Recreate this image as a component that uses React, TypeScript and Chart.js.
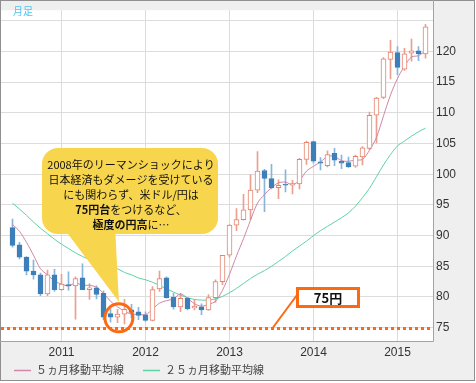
import React, { useEffect, useRef } from 'react';
import { Chart, registerables } from 'chart.js';

Chart.register(...registerables);

// ---- data (monthly USD/JPY candles, Jun 2010 – May 2015) ----
const months = [
  '2010-06', '2010-07', '2010-08', '2010-09', '2010-10', '2010-11', '2010-12',
  '2011-01', '2011-02', '2011-03', '2011-04', '2011-05', '2011-06', '2011-07', '2011-08', '2011-09', '2011-10', '2011-11', '2011-12',
  '2012-01', '2012-02', '2012-03', '2012-04', '2012-05', '2012-06', '2012-07', '2012-08', '2012-09', '2012-10', '2012-11', '2012-12',
  '2013-01', '2013-02', '2013-03', '2013-04', '2013-05', '2013-06', '2013-07', '2013-08', '2013-09', '2013-10', '2013-11', '2013-12',
  '2014-01', '2014-02', '2014-03', '2014-04', '2014-05', '2014-06', '2014-07', '2014-08', '2014-09', '2014-10', '2014-11', '2014-12',
  '2015-01', '2015-02', '2015-03', '2015-04', '2015-05',
];
const openP = [
  91.3, 88.5, 86.5, 84.2, 83.6, 80.5, 83.6,
  81.2, 82.0, 81.8, 83.1, 81.2, 81.5, 80.6, 77.3, 76.7, 77.2, 77.9, 77.6,
  77.1, 76.2, 81.3, 83.1, 80.0, 78.4, 79.8, 78.2, 78.4, 77.9, 79.9, 82.5,
  86.8, 91.7, 92.6, 94.2, 97.4, 100.6, 99.3, 97.8, 98.35, 98.2, 98.4, 102.4,
  105.3, 102.0, 101.4, 103.4, 102.1, 101.9, 101.3, 102.8, 104.2, 109.6, 112.5, 118.7,
  119.8, 117.1, 119.7, 120.1, 119.6,
];
const closeP = [
  88.4, 86.5, 84.2, 83.6, 80.5, 83.6, 81.2,
  82.1, 81.8, 83.0, 81.2, 81.5, 80.4, 76.7, 76.7, 77.2, 78.0, 77.5, 77.0,
  76.2, 81.2, 83.0, 79.9, 78.4, 79.8, 78.1, 78.5, 77.9, 79.9, 82.5, 86.8,
  91.7, 92.6, 94.2, 97.4, 100.5, 99.3, 97.8, 98.2, 98.2, 98.45, 102.4, 105.2,
  102.1, 101.8, 103.2, 102.3, 101.8, 101.2, 102.9, 104.3, 109.6, 112.4, 118.8, 119.9,
  117.4, 119.6, 120.1, 119.6, 124.0,
];
const highP = [
  92.7, 88.9, 86.6, 86.0, 83.9, 84.4, 84.5,
  83.7, 84.1, 83.3, 85.4, 82.2, 81.8, 81.0, 78.1, 78.0, 79.6, 78.8, 78.3,
  77.6, 81.7, 84.2, 83.3, 80.6, 80.6, 79.9, 79.6, 78.9, 80.4, 82.8, 86.7,
  91.8, 94.4, 96.7, 99.9, 103.7, 100.8, 101.6, 99.1, 100.7, 99.0, 102.6, 105.4,
  105.4, 102.7, 103.8, 104.2, 103.1, 102.8, 103.1, 104.5, 110.1, 112.5, 119.0, 121.8,
  120.8, 120.5, 122.0, 120.8, 124.4,
];
const lowP = [
  88.1, 86.2, 83.6, 82.9, 80.2, 80.2, 80.9,
  81.1, 81.1, 76.4, 81.3, 79.6, 79.7, 76.3, 75.9, 75.8, 75.6, 76.6, 76.3,
  76.0, 76.1, 80.9, 79.8, 78.0, 77.6, 77.9, 77.9, 77.1, 77.8, 79.1, 82.0,
  86.5, 90.8, 92.5, 92.6, 97.0, 93.9, 97.6, 96.0, 97.1, 96.8, 97.6, 101.6,
  101.8, 100.7, 101.2, 101.4, 100.9, 101.1, 101.1, 101.5, 104.0, 105.1, 112.3, 115.5,
  116.2, 116.9, 118.4, 118.5, 118.9,
];
const ma5 = [
  91.8, 90.7, 88.9, 86.8, 84.6, 83.6, 82.6,
  82.1, 81.8, 82.3, 81.9, 81.9, 81.6, 80.6, 79.3, 78.4, 77.7, 77.2, 77.2,
  77.1, 78.0, 79.0, 79.4, 79.7, 80.5, 79.8, 78.9, 78.5, 78.8, 79.3, 81.1,
  83.7, 86.7, 89.5, 92.5, 95.3, 96.7, 97.8, 98.6, 98.7, 98.3, 99.0, 100.5,
  101.3, 102.0, 102.9, 102.9, 102.2, 102.1, 102.3, 102.4, 103.9, 106.0, 109.5, 112.9,
  115.6, 117.6, 119.1, 119.3, 120.1,
];
const ma25 = [
  95.3, 94.3, 93.3, 92.2, 91.2, 90.3, 89.4,
  88.6, 87.9, 87.2, 86.6, 86.1, 85.6, 85.2, 84.9, 84.6, 84.0, 83.6, 83.1,
  82.8, 82.4, 81.9, 81.3, 80.8, 80.3, 79.9, 79.6, 79.5, 79.5, 79.7, 80.1,
  80.7, 81.4, 82.2, 83.0, 83.7, 84.3, 85.0, 85.8, 86.6, 87.5, 88.3, 89.1,
  90.0, 90.8, 91.5, 92.2, 92.9, 93.7, 94.8, 96.2, 97.7, 99.6, 101.5, 103.2,
  104.6, 105.4, 106.2, 106.9, 107.5,
];
const yearLabels = ['2011', '2012', '2013', '2014', '2015'];
const yearTickIndex = [7, 19, 31, 43, 55];
const yTickValues = [75, 80, 85, 90, 95, 100, 105, 110, 115, 120, 125];
const yHiddenLabel = 125;
const legendLabels = ['５ヵ月移動平均線', '２５ヵ月移動平均線'];
const periodLabel = '月足';
const thresholdValue = 75;
const thresholdLabel = '75円';
const circleIndex = 15.2;
const circleValue = 76.6;
const calloutLines = [
  [{ t: '2008年のリーマンショックにより', b: false }],
  [{ t: '日本経済もダメージを受けている', b: false }],
  [{ t: 'にも関わらず、米ドル/円は', b: false }],
  [{ t: '75円台', b: true }, { t: 'をつけるなど、', b: false }],
  [{ t: '極度の円高', b: true }, { t: 'に…', b: false }],
];

// ---- styles ----
const PINK = '#cf88a6';
const GREEN = '#5fd3a3';
const UP = '#e5826c';
const UP_WICK = '#eba08f';
const DOWN = '#3d7fb9';
const DOWN_WICK = '#88b5dc';
const ORANGE = '#fb6a12';
const CALLOUT = '#f7d54c';
const GRID = '#dcdcdc';
const PANEL = '#efefef';
const JP = '"Noto Sans CJK JP", "Noto Sans", sans-serif';

const overlayPlugin = {
  id: 'overlay',
  beforeDraw(chart: any) {
    const { ctx, chartArea: ca, width, height } = chart;
    ctx.save();
    ctx.fillStyle = '#ffffff';
    ctx.fillRect(0, 0, width, height);
    ctx.fillStyle = PANEL;
    ctx.fillRect(0, 0, 475, 381);
    ctx.strokeStyle = '#8f8f8f';
    ctx.lineWidth = 1;
    ctx.strokeRect(0.5, 0.5, 474, 380);
    ctx.fillStyle = '#ffffff';
    ctx.fillRect(ca.left, ca.top, ca.right - ca.left, ca.bottom - ca.top);
    ctx.restore();
  },
  afterDatasetsDraw(chart: any) {
    const { ctx, chartArea: ca, scales } = chart;
    const xs = scales.x;
    const ys = scales.y;
    ctx.save();
    // threshold dotted line
    const ty = Math.round(ys.getPixelForValue(thresholdValue)) + 0.5;
    ctx.strokeStyle = ORANGE;
    ctx.lineWidth = 3;
    ctx.setLineDash([3, 3]);
    ctx.beginPath();
    ctx.moveTo(ca.left, ty);
    ctx.lineTo(ca.right, ty);
    ctx.stroke();
    ctx.setLineDash([]);

    // circle
    const cx = xs.getPixelForValue(circleIndex);
    const cy = ys.getPixelForValue(circleValue);
    const r = 14;

    // callout bubble
    ctx.fillStyle = CALLOUT;
    ctx.beginPath();
    ctx.roundRect(42, 148, 176, 86, 16);
    ctx.fill();
    ctx.beginPath();
    ctx.moveTo(62, 226);
    ctx.lineTo(cx, cy - r - 2);
    ctx.lineTo(115, 226);
    ctx.closePath();
    ctx.fill();

    ctx.fillStyle = '#111111';
    ctx.textAlign = 'left';
    ctx.textBaseline = 'middle';
    const font = (b: boolean) => `${b ? 'bold ' : ''}11px ${JP}`;
    calloutLines.forEach((segs, li) => {
      const widths = segs.map((s) => {
        ctx.font = font(s.b);
        return ctx.measureText(s.t).width;
      });
      const total = widths.reduce((a, b) => a + b, 0);
      let x = 131 - total / 2;
      const y = 165 + li * 15;
      segs.forEach((s, k) => {
        ctx.font = font(s.b);
        ctx.fillText(s.t, x, y);
        x += widths[k];
      });
    });

    ctx.strokeStyle = ORANGE;
    ctx.lineWidth = 3;
    ctx.beginPath();
    ctx.arc(cx, cy, r, 0, Math.PI * 2);
    ctx.stroke();

    // 75円 label box with connector
    ctx.lineWidth = 2;
    ctx.beginPath();
    ctx.moveTo(297, 295);
    ctx.lineTo(273, ty - 1);
    ctx.stroke();
    ctx.fillStyle = '#ffffff';
    ctx.fillRect(296, 287, 64, 21);
    ctx.lineWidth = 3;
    ctx.strokeRect(297.5, 288.5, 61, 18);
    ctx.fillStyle = '#111111';
    ctx.font = `bold 13px ${JP}`;
    ctx.textAlign = 'center';
    ctx.fillText(thresholdLabel, 328, 298);
    ctx.restore();
  },
  afterDraw(chart: any) {
    const { ctx, chartArea: ca } = chart;
    ctx.save();
    // plot frame (right and bottom)
    ctx.strokeStyle = '#a3a3a3';
    ctx.lineWidth = 1;
    ctx.beginPath();
    ctx.moveTo(ca.right + 0.5, 0);
    ctx.lineTo(ca.right + 0.5, ca.bottom + 0.5);
    ctx.lineTo(0, ca.bottom + 0.5);
    ctx.stroke();

    // period label
    ctx.fillStyle = '#4ec4ef';
    ctx.font = `10px ${JP}`;
    ctx.textAlign = 'left';
    ctx.textBaseline = 'middle';
    ctx.fillText(periodLabel, 13, 11);

    // legend
    const items = [
      { color: PINK, x: 14, label: legendLabels[0] },
      { color: GREEN, x: 143, label: legendLabels[1] },
    ];
    ctx.font = `11px ${JP}`;
    items.forEach((it) => {
      ctx.strokeStyle = it.color;
      ctx.lineWidth = 1.5;
      ctx.beginPath();
      ctx.moveTo(it.x, 370.5);
      ctx.lineTo(it.x + 17, 370.5);
      ctx.stroke();
      ctx.fillStyle = '#444444';
      ctx.fillText(it.label, it.x + 22, 370);
    });
    ctx.restore();
  },
};

export default function App() {
  const ref = useRef<HTMLCanvasElement>(null);

  useEffect(() => {
    const canvas = ref.current;
    if (!canvas) return;
    const idx = months.map((_, i) => i);
    const up = idx.map((i) => closeP[i] >= openP[i]);
    const chart = new Chart(canvas, {
      type: 'bar',
      data: {
        datasets: [
          {
            type: 'line',
            label: legendLabels[0],
            data: idx.map((i) => ({ x: i, y: ma5[i] })),
            borderColor: PINK,
            borderWidth: 1,
            pointRadius: 0,
            tension: 0.3,
            order: 1,
          } as any,
          {
            type: 'line',
            label: legendLabels[1],
            data: idx.map((i) => ({ x: i, y: ma25[i] })),
            borderColor: GREEN,
            borderWidth: 1,
            pointRadius: 0,
            tension: 0.3,
            order: 1,
          } as any,
          {
            type: 'bar',
            label: 'body',
            data: idx.map((i) => ({ x: i, y: [openP[i], closeP[i]] })),
            backgroundColor: idx.map((i) => (up[i] ? '#ffffff' : DOWN)),
            borderColor: idx.map((i) => (up[i] ? UP : DOWN)),
            borderWidth: 1,
            borderSkipped: false,
            barThickness: 5,
            grouped: false,
            order: 0,
          } as any,
          {
            type: 'bar',
            label: 'wick',
            data: idx.map((i) => ({ x: i, y: [lowP[i], highP[i]] })),
            backgroundColor: idx.map((i) => (up[i] ? UP_WICK : DOWN_WICK)),
            borderWidth: 0,
            barThickness: 1,
            grouped: false,
            order: 2,
          } as any,
        ],
      },
      options: {
        animation: false,
        responsive: false,
        devicePixelRatio: 1,
        events: [],
        layout: { padding: { left: 1, top: 1, right: 2, bottom: 22 } },
        plugins: {
          legend: { display: false },
          tooltip: { enabled: false },
        },
        scales: {
          x: {
            type: 'linear',
            position: 'bottom',
            min: -11.5 / 7,
            max: -11.5 / 7 + 432 / 7,
            offset: false,
            grid: { offset: false, color: GRID, lineWidth: 1, drawTicks: false },
            border: { display: false },
            afterBuildTicks: (scale: any) => {
              scale.ticks = yearTickIndex.map((v) => ({ value: v }));
            },
            afterFit: (scale: any) => {
              scale.height = 20;
            },
            ticks: {
              autoSkip: false,
              maxRotation: 0,
              padding: 4,
              color: '#333333',
              font: { family: '"Liberation Sans", Arial, sans-serif', size: 12 },
              callback: (v: any) => {
                const k = yearTickIndex.indexOf(Number(v));
                return k >= 0 ? yearLabels[k] : '';
              },
            },
          },
          y: {
            type: 'linear',
            position: 'right',
            min: 72.83,
            max: 126.71,
            grid: { color: GRID, lineWidth: 1, drawTicks: false },
            border: { display: false },
            afterBuildTicks: (scale: any) => {
              scale.ticks = yTickValues.map((v) => ({ value: v }));
            },
            afterFit: (scale: any) => {
              scale.width = 41;
            },
            ticks: {
              autoSkip: false,
              padding: 3,
              color: '#333333',
              font: { family: '"Liberation Sans", Arial, sans-serif', size: 12 },
              callback: (v: any) => (Number(v) === yHiddenLabel ? '' : String(v)),
            },
          },
        },
      } as any,
      plugins: [overlayPlugin],
    });
    return () => chart.destroy();
  }, []);

  return (
    <div style={{ position: 'fixed', left: 0, top: 0, width: 476, height: 383 }}>
      <canvas ref={ref} width={476} height={383} style={{ display: 'block', width: 476, height: 383 }} />
    </div>
  );
}
